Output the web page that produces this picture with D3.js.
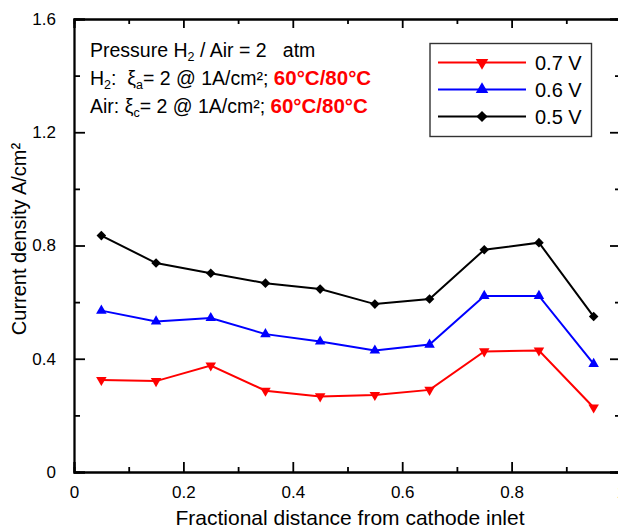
<!DOCTYPE html>
<html>
<head>
<meta charset="utf-8">
<script src="https://cdn.jsdelivr.net/npm/d3@7"></script>
<style>
  html, body { margin: 0; padding: 0; background: #fff; }
  svg { display: block; font-family: "Liberation Sans", Arial, sans-serif; }
  text { white-space: pre; }
</style>
</head>
<body>
<svg id="chart" width="618" height="530"></svg>
<script>
// Sampling positions along the channel (fractional distance from cathode inlet)
const positions = [0.05, 0.15, 0.25, 0.35, 0.45, 0.55, 0.65, 0.75, 0.85, 0.95];

// Local current density (A/cm²) at each cell voltage
const current07V = [0.325, 0.321, 0.376, 0.287, 0.267, 0.272, 0.290, 0.426, 0.429, 0.228];
const current06V = [0.570, 0.532, 0.544, 0.487, 0.461, 0.429, 0.450, 0.622, 0.622, 0.382];
const current05V = [0.835, 0.738, 0.702, 0.667, 0.646, 0.593, 0.611, 0.785, 0.810, 0.549];

const seriesLabels = ["0.7 V", "0.6 V", "0.5 V"];

const xMajorTicks = [0, 0.2, 0.4, 0.6, 0.8, 1];
const xMinorTicks = [0.1, 0.3, 0.5, 0.7, 0.9];
const yMajorTicks = [0, 0.4, 0.8, 1.2, 1.6];
const yMinorTicks = [0.2, 0.6, 1.0, 1.4];

const series = [
  { label: seriesLabels[0], values: current07V, color: "#ff0000", shape: "down" },
  { label: seriesLabels[1], values: current06V, color: "#0000ff", shape: "up" },
  { label: seriesLabels[2], values: current05V, color: "#000000", shape: "diamond" }
];

const svg = d3.select("#chart");
const margin = { left: 74, right: 621, top: 19, bottom: 472 };

const x = d3.scaleLinear().domain([0, 1]).range([margin.left, margin.right]);
const y = d3.scaleLinear().domain([0, 1.6]).range([margin.bottom, margin.top]);

const axisW = 1.8;
const fmt = d => (d === 0 || d === 1) ? String(d) : d3.format(".1f")(d);

// Frame axes: ticks point inward on all four sides
const bottomAxis = svg.append("g").attr("transform", `translate(0,${margin.bottom})`)
  .call(d3.axisBottom(x).tickValues(xMajorTicks).tickSize(-10).tickPadding(14).tickFormat(fmt));
const bottomMinor = svg.append("g").attr("transform", `translate(0,${margin.bottom})`)
  .call(d3.axisBottom(x).tickValues(xMinorTicks).tickSize(-5).tickFormat(""));
const topAxis = svg.append("g").attr("transform", `translate(0,${margin.top})`)
  .call(d3.axisTop(x).tickValues(xMajorTicks).tickSize(-9).tickFormat(""));
const topMinor = svg.append("g").attr("transform", `translate(0,${margin.top})`)
  .call(d3.axisTop(x).tickValues(xMinorTicks).tickSize(-5).tickFormat(""));
const leftAxis = svg.append("g").attr("transform", `translate(${margin.left},0)`)
  .call(d3.axisLeft(y).tickValues(yMajorTicks).tickSize(-11).tickPadding(18).tickFormat(d => d === 0 ? "0" : d3.format(".1f")(d)));
const leftMinor = svg.append("g").attr("transform", `translate(${margin.left},0)`)
  .call(d3.axisLeft(y).tickValues(yMinorTicks).tickSize(-6).tickFormat(""));
const rightAxis = svg.append("g").attr("transform", `translate(${margin.right},0)`)
  .call(d3.axisRight(y).tickValues(yMajorTicks).tickSize(-11).tickFormat(""));
const rightMinor = svg.append("g").attr("transform", `translate(${margin.right},0)`)
  .call(d3.axisRight(y).tickValues(yMinorTicks).tickSize(-6).tickFormat(""));

[bottomAxis, bottomMinor, topAxis, topMinor, leftAxis, leftMinor, rightAxis, rightMinor].forEach(g => {
  g.selectAll(".domain").attr("stroke", "#000").attr("stroke-width", axisW);
  g.selectAll(".tick line").attr("stroke", "#000").attr("stroke-width", axisW);
  g.selectAll(".tick text").attr("fill", "#000")
    .style("font-family", "'Liberation Sans', Arial, sans-serif").style("font-size", "17px");
});

// Axis titles
svg.append("text")
  .attr("x", 350).attr("y", 525)
  .attr("text-anchor", "middle")
  .style("font-size", "21px")
  .text("Fractional distance from cathode inlet");

svg.append("text")
  .attr("transform", "translate(26,239) rotate(-90)")
  .attr("text-anchor", "middle")
  .style("font-size", "20px")
  .text("Current density A/cm²");

// Markers
function markerPath(shape, size) {
  if (shape === "diamond") return d3.symbol(d3.symbolSquare, size)();
  return d3.symbol(d3.symbolTriangle, size)();
}
function markerTransform(shape, cx, cy) {
  if (shape === "diamond") return `translate(${cx},${cy}) rotate(45)`;
  if (shape === "down") return `translate(${cx},${cy}) rotate(180)`;
  return `translate(${cx},${cy})`;
}

const line = d3.line().x(d => x(d[0])).y(d => y(d[1]));

series.forEach(s => {
  const pts = positions.map((p, i) => [p, s.values[i]]);
  const g = svg.append("g");
  g.append("path")
    .attr("d", line(pts))
    .attr("fill", "none")
    .attr("stroke", s.color)
    .attr("stroke-width", 2);
  g.selectAll("path.mk").data(pts).join("path")
    .attr("class", "mk")
    .attr("d", markerPath(s.shape, s.shape === "diamond" ? 46 : 48))
    .attr("transform", d => markerTransform(s.shape, x(d[0]), y(d[1])))
    .attr("fill", s.color);
});

// Legend
const legend = svg.append("g");
legend.append("rect")
  .attr("x", 430).attr("y", 43.5).attr("width", 161.5).attr("height", 93)
  .attr("fill", "#fff").attr("stroke", "#333").attr("stroke-width", 1.4);
series.forEach((s, i) => {
  const cy = 62.5 + i * 27;
  legend.append("line")
    .attr("x1", 438).attr("x2", 526).attr("y1", cy).attr("y2", cy)
    .attr("stroke", s.color).attr("stroke-width", 2);
  legend.append("path")
    .attr("d", markerPath(s.shape, s.shape === "diamond" ? 62 : 68))
    .attr("transform", markerTransform(s.shape, 482, cy))
    .attr("fill", s.color);
  legend.append("text")
    .attr("x", 535).attr("y", cy + 7)
    .style("font-size", "20px")
    .text(s.label);
});

// Operating-condition notes
const notes = svg.append("g").style("font-size", "19.5px");
const l1 = notes.append("text").attr("x", 90).attr("y", 57);
l1.append("tspan").text("Pressure H");
l1.append("tspan").attr("dy", 4).style("font-size", "12.5px").text("2");
l1.append("tspan").attr("dy", -4).text(" / Air = 2   atm");

const l2 = notes.append("text").attr("x", 90).attr("y", 85);
l2.append("tspan").text("H");
l2.append("tspan").attr("dy", 4).style("font-size", "12.5px").text("2");
l2.append("tspan").attr("dy", -4).text(":  ξ");
l2.append("tspan").attr("dy", 4).style("font-size", "12.5px").text("a");
l2.append("tspan").attr("dy", -4).text("= 2 @ 1A/cm²; ");
l2.append("tspan").attr("fill", "#ff0000").style("font-weight", "bold").style("font-size", "20.5px").text("60°C/80°C");

const l3 = notes.append("text").attr("x", 90).attr("y", 113);
l3.append("tspan").text("Air: ξ");
l3.append("tspan").attr("dy", 4).style("font-size", "12.5px").text("c");
l3.append("tspan").attr("dy", -4).text("= 2 @ 1A/cm²; ");
l3.append("tspan").attr("fill", "#ff0000").style("font-weight", "bold").style("font-size", "20.5px").text("60°C/80°C");
</script>
</body>
</html>
